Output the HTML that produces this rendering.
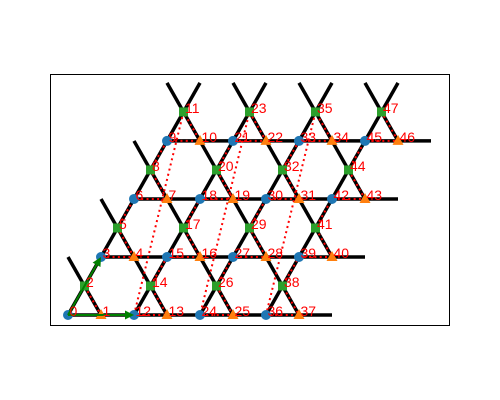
<!DOCTYPE html>
<html>
<head>
<meta charset="utf-8">
<style>
  html,body{margin:0;padding:0;background:#fff;}
  svg{display:block;}
  text{font-family:"Liberation Sans","DejaVu Sans",sans-serif;}
</style>
</head>
<body>
<svg id="chart" width="500" height="400" viewBox="0 0 500 400" xmlns="http://www.w3.org/2000/svg">
  <rect x="0" y="0" width="500" height="400" fill="#fff"/>
  <g id="bonds"></g>
  <g id="path"></g>
  <g id="sites"></g>
  <g id="arrows"></g>
  <g id="labels"></g>
  <rect x="50.5" y="74.5" width="399" height="251" fill="none" stroke="#000" stroke-width="1"/>
</svg>
<script>
// lattice data
const nCellsX = 4;
const nCellsY = 4;
const latticeA1 = [1, 0];
const latticeA2 = [0.5, 0.8660254];
const basisOffsets = [[0, 0], [0.5, 0], [0.25, 0.4330127]];
const siteLabels = ["0","1","2","3","4","5","6","7","8","9","10","11","12","13","14","15","16","17","18","19","20","21","22","23","24","25","26","27","28","29","30","31","32","33","34","35","36","37","38","39","40","41","42","43","44","45","46","47"];

// axis functions
const X0 = 68, Y0 = 315, SX = 66, SY = 67;
function px(x){ return X0 + x * SX; }
function py(y){ return Y0 - y * SY; }

const NS = "http://www.w3.org/2000/svg";
function mk(tag, attrs, parent){
  const e = document.createElementNS(NS, tag);
  for (const k in attrs) e.setAttribute(k, attrs[k]);
  parent.appendChild(e);
  return e;
}
function cellOrigin(i, j){
  return [i*latticeA1[0] + j*latticeA2[0], i*latticeA1[1] + j*latticeA2[1]];
}

const bonds = document.getElementById('bonds');
const pathG = document.getElementById('path');
const sitesG = document.getElementById('sites');
const labelsG = document.getElementById('labels');
const arrowsG = document.getElementById('arrows');

for (let i = 0; i < nCellsX; i++){
  for (let j = 0; j < nCellsY; j++){
    const o = cellOrigin(i, j);
    const segs = [
      [o, [o[0]+latticeA1[0], o[1]+latticeA1[1]]],
      [o, [o[0]+latticeA2[0], o[1]+latticeA2[1]]],
      [[o[0]+basisOffsets[1][0], o[1]], [o[0]+basisOffsets[1][0]-latticeA1[0]+latticeA2[0], o[1]+latticeA2[1]]]
    ];
    segs.forEach(s => {
      const l = mk('line', {x1:px(s[0][0]), y1:py(s[0][1]), x2:px(s[1][0]), y2:py(s[1][1]), stroke:'#000', 'stroke-width':3.5}, bonds);
      
      
    });
  }
}

const sitePos = [];
for (let i = 0; i < nCellsX; i++){
  for (let j = 0; j < nCellsY; j++){
    const o = cellOrigin(i, j);
    for (let s = 0; s < 3; s++){
      sitePos.push([o[0]+basisOffsets[s][0], o[1]+basisOffsets[s][1], s]);
    }
  }
}

const pts = sitePos.map(p => px(p[0]).toFixed(2) + ',' + py(p[1]).toFixed(2)).join(' ');
const pl = mk('polyline', {points:pts, fill:'none', stroke:'#ff0000', 'stroke-width':2, 'stroke-dasharray':'2,3.3'}, pathG);



sitePos.forEach((p, k) => {
  const x = px(p[0]), y = py(p[1]);
  let m;
  if (p[2] === 0){
    m = mk('circle', {cx:x, cy:y, r:5, fill:'#1f77b4'}, sitesG);
    
  } else if (p[2] === 1){
    m = mk('polygon', {points:`${x},${y-6} ${x-5.5},${y+4} ${x+5.5},${y+4}`, fill:'#ff7f0e'}, sitesG);
    
  } else {
    m = mk('rect', {x:x-4.5, y:y-4.5, width:9, height:9, fill:'#2ca02c'}, sitesG);
    
  }
  
});

function arrow(v){
  const x1 = px(0), y1 = py(0), x2 = px(v[0]), y2 = py(v[1]);
  const dx = x2-x1, dy = y2-y1, L = Math.hypot(dx, dy), ux = dx/L, uy = dy/L;
  const hl = 9, hw = 4.5;
  const bx = x2 - ux*hl, by = y2 - uy*hl;
  const ln = mk('line', {x1:x1, y1:y1, x2:bx, y2:by, stroke:'#008000', 'stroke-width':2}, arrowsG);
  
  
  const hd = mk('polygon', {points:`${x2},${y2} ${bx-uy*hw},${by+ux*hw} ${bx+uy*hw},${by-ux*hw}`, fill:'#008000'}, arrowsG);
  
  
}
arrow(latticeA1);
arrow(latticeA2);

sitePos.forEach((p, k) => {
  const t = mk('text', {x:px(p[0])+1.5, y:py(p[1])+1, fill:'#ff0000', 'font-size':'14px'}, labelsG);
  t.textContent = siteLabels[k];
  
  
});
</script>
</body>
</html>
